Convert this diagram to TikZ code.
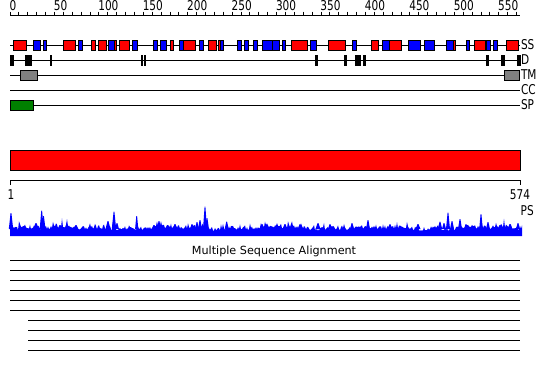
\documentclass[tikz,border=0pt]{standalone}
\usepackage{fontspec}
\setmainfont{DejaVu Sans}
\newfontfamily\narrowfont{DejaVu Sans}[FakeStretch=0.78]
\begin{document}
\begin{tikzpicture}[x=1pt,y=-1pt,
  trk/.style={line width=1pt,black},
  ssr/.style={fill=red,draw=black,line width=0.8pt},
  ssb/.style={fill=blue,draw=black,line width=0.8pt},
  dbox/.style={fill=black,draw=black,line width=0.5pt},
  tmbox/.style={fill=gray,draw=black,line width=0.8pt},
  spbox/.style={fill={rgb,255:red,0;green,128;blue,0},draw=black,line width=0.8pt},
  rlab/.style={font=\narrowfont\fontsize{13.5}{13.5}\selectfont,inner sep=0pt},
  tlab/.style={font=\narrowfont\fontsize{13.5}{13.5}\selectfont,inner sep=0pt,anchor=west}]
\useasboundingbox[fill=white] (0,0) rectangle (550,380);
% top ruler
\draw[trk] (10,15) -- (520,15);
\foreach \r in {0,10,...,570}{\draw[line width=0.8pt] ({10+\r*0.88850},11.5) -- ({10+\r*0.88850},15);}
\foreach \r in {0,50,...,550}{\node[rlab,anchor=south west] (r\r) at ({9.3+\r*0.88850},11) {\r};}
% track lines
\foreach \y/\n in {45/SS,60/D,75/TM,90/CC,105/SP}{
  \draw[trk] (10,\y) -- (520,\y);
  \node[tlab] (l\n) at (520.8,\y) {\n};
}
% SS boxes
\foreach \a/\b/\c in {13.3/26.7/ssr,33.3/40.7/ssb,43.3/46/ssb,63.3/75.7/ssr,78.3/82.3/ssb,91.3/95.7/ssr,98.7/106/ssr,108.7/114/ssb,114/116.3/ssr,119/129.7/ssr,132.3/137.7/ssb,153.3/157.7/ssb,160.3/166.7/ssb,170.3/173.7/ssr,179.3/183.3/ssb,183.3/195.7/ssr,199.3/203.7/ssb,208.3/216.7/ssr,218.3/220/ssr,220/223.7/ssb,237.3/241/ssb,244.3/248.7/ssb,253.3/257.7/ssb,262.3/272.7/ssb,272.7/279.3/ssb,282/285.7/ssb,291/307.7/ssr,310/316.7/ssb,328.3/345/ssr,352.3/356.7/ssb,371/378.3/ssr,382.3/389/ssb,389/401.7/ssr,408.3/420/ssb,424/434.3/ssb,446.7/453.3/ssb,453.3/455/ssr,466.7/469/ssb,474.3/485/ssr,486.7/490.7/ssb,493.3/497.3/ssb,506.7/518.3/ssr}{
  \draw[\c] (\a,40.5) rectangle (\b,50);
}
% D boxes
\foreach \a/\b in {10.3/13.3,25/31.7,50/51.7,141/142.7,144/145.7,315.7/317.7,344/346.7,355/357.3,358.3/360.7,363.3/365.7,486/488.7,501/504,517/520.7}{
  \draw[dbox] (\a,55) rectangle (\b,65);
}
% TM
\draw[tmbox] (20.3,70) rectangle (37.3,80);
\draw[tmbox] (504.3,70) rectangle (519.3,80);
% SP
\draw[spbox] (10.3,100) rectangle (33.3,110);
% red bar
\draw[fill=red,draw=black,line width=1pt] (10,150) rectangle (520,170);
% second ruler
\draw[trk] (10,185) -- (10,180) -- (520,180) -- (520,185);
\node[rlab] (one) at (11,195) {1};
\node[rlab] (last) at (520,195) {574};
\node[rlab,anchor=west] (ps) at (520.5,210.5) {PS};
% PS profile
\pgfmathsetseed{4711}
\fill[blue] (10,236) -- (10,213) \foreach \i in {2,...,512}{ -- ({10+\i},{231-1.3*sin(\i*5.3)^2-1.6*sin(\i*1.7)^2-3.8*rnd^1.3-7*rnd^9}) } -- (522,229) -- (522,236) -- cycle;
\foreach \p/\t/\w in {11/213/2.2,36/223/3,41.7/210.7/2,43.5/216/2,60/225/2.5,76/225/2.5,108/221/2.5,114/211.7/2.2,117/223/2,136.7/216/1.6,154/225/2.5,159/221/2.2,175/224/2.5,192/224/2,197/222/2,200/220/2,205/206.7/2,207/218/2,226.7/221.7/2,262/224/2.5,285/224/2.5,300/224/2,318/223/2.5,330/224/2,352/223/2,368/220/2,390/224/2,418/224/2.5,440/221.7/2.2,444/223/2,448/212.7/2,452/221/2,460/219/2,466/224/2,481/214/1.8,488/222/2,500/225/2.5,510/224/2.5,518/223/2}{
  \fill[blue] ({\p-\w},229) -- ({\p-0.4},\t) -- ({\p+0.4},\t) -- ({\p+\w},229) -- cycle;
}
% MSA
\node[inner sep=0pt,font=\fontsize{11.2}{11}\selectfont] (msa) at (274,251) {Multiple Sequence Alignment};
\foreach \y in {260,270,280,290,300,310}{\draw[trk] (10,\y) -- (520,\y);}
\foreach \y in {320,330,340,350}{\draw[trk] (28.3,\y) -- (520,\y);}
\end{tikzpicture}
\end{document}
